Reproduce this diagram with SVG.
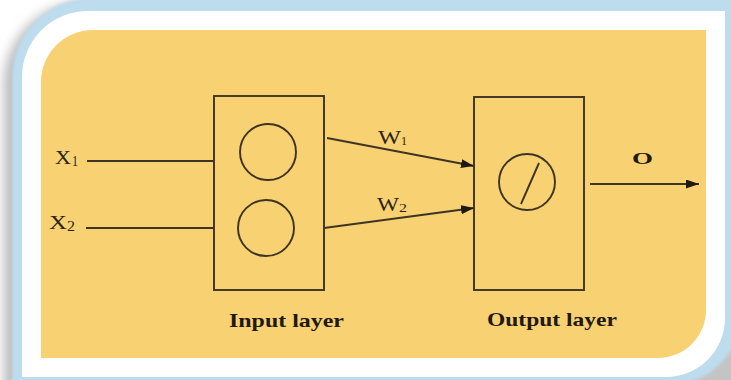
<svg xmlns="http://www.w3.org/2000/svg" width="731" height="380" viewBox="0 0 731 380">
  <style>
    .wire { fill: none; stroke: #3d3423; stroke-width: 1.9; }
    .box { fill: none; stroke: #3d3423; stroke-width: 1.9; }
    .lbl { font-family: "Liberation Serif", "Times New Roman", serif; fill: #2a2418; }
    .cap { font-family: "Liberation Serif", "Times New Roman", serif; fill: #1f190f; font-weight: bold; }
  </style>
  <defs>
    <filter id="soft" x="-20%" y="-20%" width="140%" height="140%">
      <feGaussianBlur stdDeviation="6"/>
    </filter>
    <filter id="edge" x="-5%" y="-5%" width="110%" height="110%">
      <feGaussianBlur stdDeviation="1.5"/>
    </filter>
    <marker id="head" markerUnits="userSpaceOnUse" markerWidth="14" markerHeight="10" refX="13" refY="4.5" orient="auto">
      <path d="M0,0 L13,4.5 L0,9 Z" fill="#1e1a12"/>
    </marker>
  </defs>

  <!-- page background and frame shadow -->
  <rect x="0" y="0" width="731" height="380" fill="#ffffff"/>
  <path d="M4,400 L4,84 A82,82 0 0 1 86,2 L740,2 L740,400 Z" fill="#b9b9b9" filter="url(#soft)"/>
  <path d="M600,400 L740,300 L740,400 Z" fill="#c4c4c4" filter="url(#soft)"/>

  <!-- blue outer border -->
  <path d="M12,400 L12,80 A80,80 0 0 1 92,-2 L740,-2 L740,316 A68,68 0 0 1 672,384 L672,400 Z" fill="#bddcee" filter="url(#edge)"/>
  <rect x="12" y="378" width="640" height="10" fill="#bddcee"/>

  <!-- white mat -->
  <path d="M22,377 L22,77 A66,66 0 0 1 88,11 L725,11 L725,318 A59,59 0 0 1 666,377 Z" fill="#ffffff"/>

  <!-- yellow panel -->
  <path d="M41,358 L41,82 A52,52 0 0 1 93,30 L706,30 L706,310 A48,48 0 0 1 658,358 Z" fill="#f8d172"/>

  <!-- input layer node -->
  <g id="input-layer">
    <rect class="box" x="214" y="96" width="110" height="194"/>
    <circle class="box" cx="268" cy="152" r="28"/>
    <circle class="box" cx="266" cy="228" r="28"/>
    <text class="cap" x="229" y="327" font-size="19" textLength="115" lengthAdjust="spacingAndGlyphs">Input layer</text>
  </g>

  <!-- output layer node -->
  <g id="output-layer">
    <rect class="box" x="474" y="97" width="110" height="193"/>
    <circle class="box" cx="527" cy="182" r="28"/>
    <line class="wire" x1="539" y1="163" x2="521" y2="204"/>
    <text class="cap" x="487" y="326" font-size="19" textLength="130" lengthAdjust="spacingAndGlyphs">Output layer</text>
  </g>

  <!-- input signals -->
  <g id="input-x1">
    <text class="lbl" x="55" y="164" font-size="19" textLength="16" lengthAdjust="spacingAndGlyphs">X</text>
    <text class="lbl" x="72" y="166" font-size="14" textLength="6" lengthAdjust="spacingAndGlyphs">1</text>
  </g>
  <g id="input-x2">
    <text class="lbl" x="49" y="229" font-size="19" textLength="18" lengthAdjust="spacingAndGlyphs">X</text>
    <text class="lbl" x="67" y="231" font-size="14" textLength="8" lengthAdjust="spacingAndGlyphs">2</text>
  </g>

  <!-- connectors -->
  <g id="connectors">
    <line class="wire" x1="87" y1="161" x2="214" y2="161"/>
    <line class="wire" x1="86" y1="228" x2="214" y2="228"/>
    <line class="wire" x1="327" y1="138" x2="474" y2="166" marker-end="url(#head)"/>
    <line class="wire" x1="324" y1="228" x2="474" y2="208" marker-end="url(#head)"/>
    <line class="wire" x1="590" y1="184" x2="699" y2="184" marker-end="url(#head)"/>
    <text class="lbl" x="378" y="144" font-size="19" textLength="23" lengthAdjust="spacingAndGlyphs">W</text>
    <text class="lbl" x="401" y="145" font-size="13" textLength="6" lengthAdjust="spacingAndGlyphs">1</text>
    <text class="lbl" x="377" y="211" font-size="19" textLength="22" lengthAdjust="spacingAndGlyphs">W</text>
    <text class="lbl" x="399" y="212" font-size="13" textLength="8" lengthAdjust="spacingAndGlyphs">2</text>
    <text class="cap" x="632" y="164" font-size="17" textLength="21" lengthAdjust="spacingAndGlyphs">O</text>
  </g>
</svg>
